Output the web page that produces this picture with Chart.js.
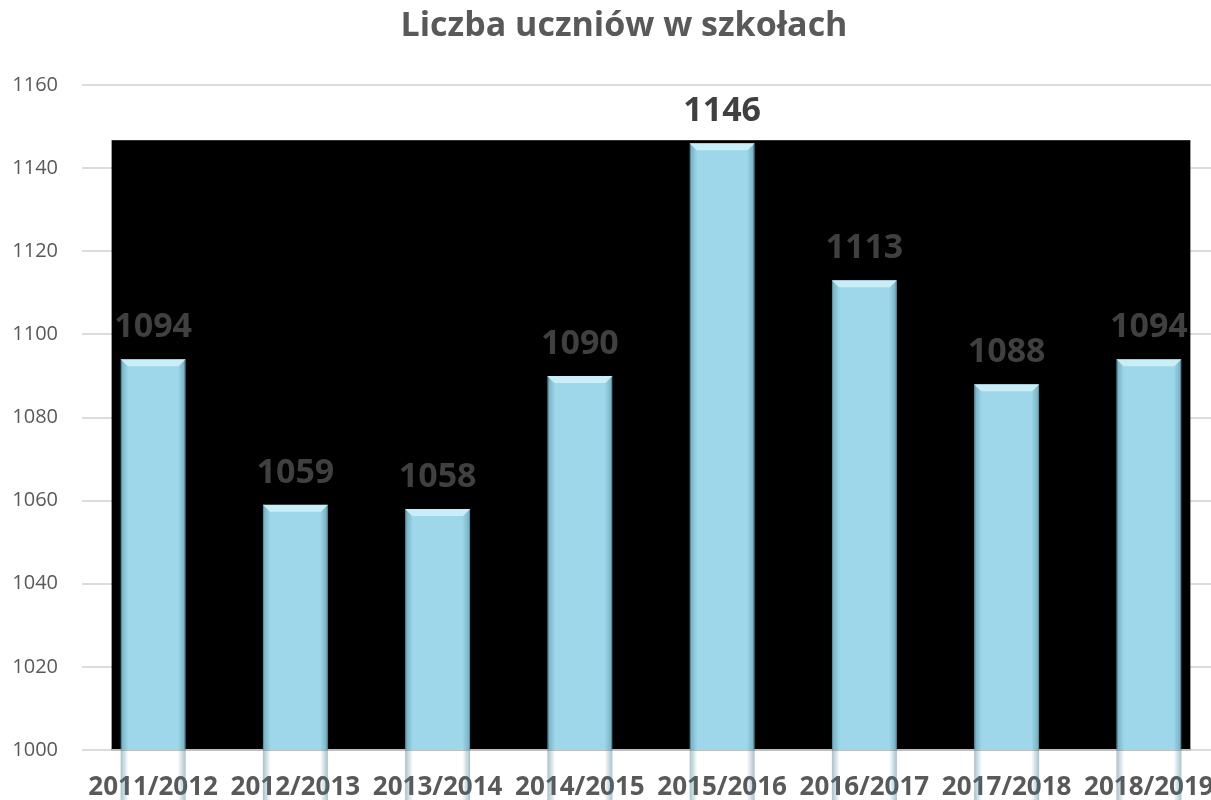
<!DOCTYPE html>
<html>
<head>
<meta charset="utf-8">
<script src="https://cdn.jsdelivr.net/npm/chart.js@4"></script>
<style>
  body { margin: 0; background: #fff; overflow: hidden; }
  #wrap { position: relative; width: 1220px; height: 800px; }
  #title {
    position: absolute; top: 0px; left: 0; width: 1248px;
    text-align: center; font: bold 34px "Open Sans", sans-serif; color: #595959;
  }
</style>
</head>
<body>
<div id="wrap">
  <canvas id="chart"></canvas>
  <div id="title">Liczba uczniów w szkołach</div>
</div>
<script>
// Data
const years = ['2011/2012', '2012/2013', '2013/2014', '2014/2015', '2015/2016', '2016/2017', '2017/2018', '2018/2019'];
const students = [1094, 1059, 1058, 1090, 1146, 1113, 1088, 1094];
const yMin = 1000;
const yMax = 1160;
const yStep = 20;

// black backdrop behind the bars
const backdrop = {
  id: 'backdrop',
  beforeDatasetsDraw(chart) {
    const bars = chart.getDatasetMeta(0).data;
    const first = bars[0], last = bars[bars.length - 1];
    const left = first.x - first.width / 2 - 9;
    const right = last.x + last.width / 2 + 9;
    const top = Math.min(...bars.map(b => b.y)) - 3;
    const bottom = chart.scales.y.getPixelForValue(yMin);
    const ctx = chart.ctx;
    ctx.save();
    ctx.fillStyle = '#000';
    ctx.fillRect(left, top, right - left, bottom - top);
    ctx.fillStyle = '#bfbfbf';
    ctx.fillRect(left, bottom - 1, right - left, 2);
    ctx.restore();
  }
};

// bevel shading + value labels
const bevel = {
  id: 'bevel',
  afterDatasetsDraw(chart) {
    const ctx = chart.ctx;
    const bars = chart.getDatasetMeta(0).data;
    ctx.save();
    bars.forEach((b, i) => {
      const l = b.x - b.width / 2, r = b.x + b.width / 2, t = b.y, bt = b.base;
      const d = 7;
      // side shading
      let g = ctx.createLinearGradient(l, 0, r, 0);
      g.addColorStop(0, 'rgba(60,120,140,0.45)');
      g.addColorStop(0.12, 'rgba(60,120,140,0)');
      g.addColorStop(0.88, 'rgba(60,120,140,0)');
      g.addColorStop(1, 'rgba(60,120,140,0.45)');
      ctx.fillStyle = g;
      ctx.fillRect(l, t, r - l, bt - t);
      // top bevel
      ctx.beginPath();
      ctx.moveTo(l, t); ctx.lineTo(r, t); ctx.lineTo(r - d, t + d); ctx.lineTo(l + d, t + d); ctx.closePath();
      ctx.fillStyle = '#c9eef8';
      ctx.fill();
      // bottom bevel
      ctx.beginPath();
      ctx.moveTo(l, bt); ctx.lineTo(r, bt); ctx.lineTo(r - d, bt - d); ctx.lineTo(l + d, bt - d); ctx.closePath();
      ctx.fillStyle = 'rgba(70,130,150,0.5)';
      ctx.fill();
      // value
      ctx.font = 'bold 34px "Open Sans", sans-serif';
      ctx.fillStyle = '#404040';
      ctx.textAlign = 'center';
      ctx.textBaseline = 'alphabetic';
      ctx.fillText(students[i], b.x, t - 22);
    });
    ctx.restore();
  }
};

new Chart(document.getElementById('chart'), {
  type: 'bar',
  data: {
    labels: years,
    datasets: [{
      data: students,
      backgroundColor: '#9dd7e9',
      borderColor: '#78b4c6',
      borderWidth: 1,
      barPercentage: 0.457,
      categoryPercentage: 1
    }]
  },
  options: {
    responsive: true,
    maintainAspectRatio: false,
    animation: false,
    layout: { padding: { top: 85, left: 0, right: 0, bottom: 0 } },
    plugins: { legend: { display: false }, tooltip: { enabled: false } },
    scales: {
      x: {
        grid: { display: false },
        border: { display: false },
        ticks: { color: '#595959', font: { family: 'Open Sans', size: 26, weight: 'bold' }, padding: 14, maxRotation: 0, autoSkip: false },
        afterFit(s) { s.height = 50; s.paddingLeft = 0; s.paddingRight = 0; }
      },
      y: {
        min: yMin, max: yMax,
        ticks: { stepSize: yStep, color: '#595959', font: { family: 'Open Sans', size: 20 }, padding: 24, callback: v => String(v) },
        grid: { color: '#dcdcdc', lineWidth: 2, drawTicks: false },
        border: { display: false },
        afterFit(s) { s.width = 82; }
      }
    }
  },
  plugins: [backdrop, bevel]
});
</script>
</body>
</html>
